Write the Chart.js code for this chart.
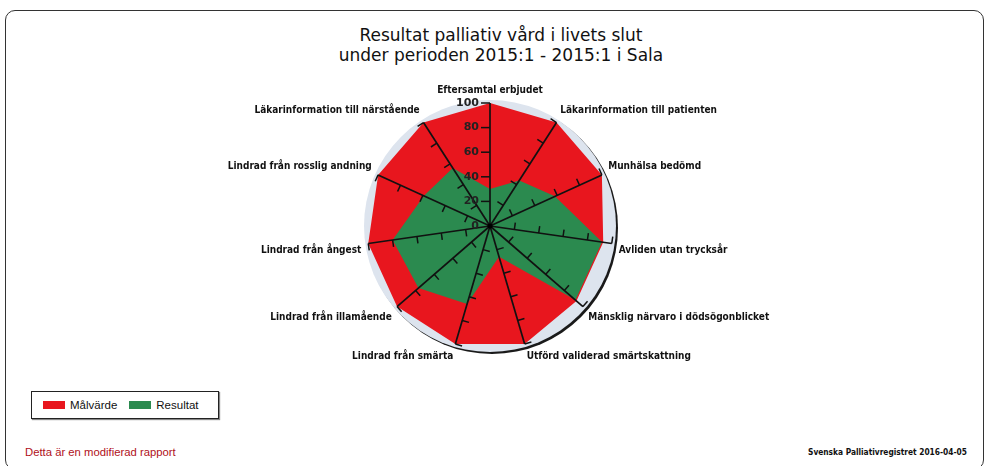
<!DOCTYPE html>
<html>
<head>
<meta charset="utf-8">
<script src="https://cdn.jsdelivr.net/npm/chart.js@4/dist/chart.umd.min.js"></script>
<style>
    body { margin: 0; width: 990px; height: 466px; background: #fff; overflow: hidden; position: relative; font-family: 'Liberation Sans', Arial, sans-serif; }
    .frame { position: absolute; left: 5px; top: 10px; width: 979px; height: 460px; border: 1.5px solid #333; border-radius: 10px; box-sizing: border-box; }
    .title { position: absolute; left: 0; top: 25px; width: 1002px; text-align: center; font-family: 'DejaVu Sans', Verdana, sans-serif; font-size: 17px; line-height: 20px; color: #111; }
    .chart-box { position: absolute; left: 0; top: 82px; width: 980px; height: 284px; }
    .legend { position: absolute; left: 31px; top: 391px; width: 188px; height: 28px; border: 1px solid #222; box-shadow: 1px 1px 1px #888; display: flex; align-items: center; padding-left: 11px; box-sizing: border-box; font-size: 11.5px; color: #111; }
    .legend .item { display: flex; align-items: center; margin-right: 12px; }
    .legend .swatch { width: 22px; height: 8px; margin-right: 5px; }
    .note { position: absolute; left: 25px; top: 446px; font-size: 11.3px; color: #b0101a; }
    .source { position: absolute; left: 808px; top: 447px; font-family: 'DejaVu Sans Condensed', 'DejaVu Sans', sans-serif; font-weight: bold; font-size: 8.3px; color: #111; }
</style>
</head>
<body>
<div class="frame"></div>
<div class="title">Resultat palliativ vård i livets slut<br>under perioden 2015:1 - 2015:1 i Sala</div>
<div class="chart-box"><canvas id="radarChart"></canvas></div>
<div class="legend" id="legend"></div>
<div class="note">Detta är en modifierad rapport</div>
<div class="source">Svenska Palliativregistret 2016-04-05</div>
<script>
const categories = [
    'Eftersamtal erbjudet',
    'Läkarinformation till patienten',
    'Munhälsa bedömd',
    'Avliden utan trycksår',
    'Mänsklig närvaro i dödsögonblicket',
    'Utförd validerad smärtskattning',
    'Lindrad från smärta',
    'Lindrad från illamående',
    'Lindrad från ångest',
    'Lindrad från rosslig andning',
    'Läkarinformation till närstående'
];
const malvarde = [100, 100, 100, 93, 93, 100, 100, 100, 100, 100, 100];
const resultat = [30, 44, 58, 92, 92, 26, 66, 77, 80, 59, 56];
const tickValues = [0, 20, 40, 60, 80, 100];

const series = [
    { label: 'Målvärde', data: malvarde, color: '#e8161e', order: 2 },
    { label: 'Resultat', data: resultat, color: '#2b8a4f', order: 1 }
];

// disk behind the polygons, with a dark shadow on the lower right
const diskPlugin = {
    id: 'disk',
    beforeDatasetsDraw(chart) {
        const s = chart.scales.r;
        const r = s.drawingArea;
        const ctx = chart.ctx;
        ctx.save();
        ctx.fillStyle = '#1a1a1a';
        ctx.beginPath();
        ctx.arc(s.xCenter + 2, s.yCenter + 2, r + 3, 0, Math.PI * 2);
        ctx.fill();
        ctx.fillStyle = '#dde4ee';
        ctx.beginPath();
        ctx.arc(s.xCenter, s.yCenter, r + 3, 0, Math.PI * 2);
        ctx.fill();
        ctx.restore();
    }
};

// tick marks on every axis, numbers on the top one
const tickPlugin = {
    id: 'axisTicks',
    afterDraw(chart) {
        const s = chart.scales.r;
        const ctx = chart.ctx;
        ctx.save();
        ctx.strokeStyle = '#111';
        ctx.lineWidth = 1.5;
        categories.forEach((c, i) => {
            const a = s.getIndexAngle(i);
            tickValues.forEach(v => {
                if (v === 0) return;
                const p = s.getPointPositionForValue(i, v);
                const len = i === 0 ? 9 : 7;
                ctx.beginPath();
                ctx.moveTo(p.x, p.y);
                ctx.lineTo(p.x - Math.cos(a) * len, p.y - Math.sin(a) * len);
                ctx.stroke();
            });
        });
        ctx.fillStyle = '#222';
        ctx.font = 'bold 11px "DejaVu Sans", sans-serif';
        ctx.textAlign = 'right';
        ctx.textBaseline = 'middle';
        tickValues.forEach(v => {
            const y = s.yCenter - s.getDistanceFromCenterForValue(v);
            ctx.fillText(String(v), s.xCenter - 11, y);
        });
        ctx.fillStyle = '#000';
        ctx.beginPath();
        ctx.arc(s.xCenter, s.yCenter, 2.5, 0, Math.PI * 2);
        ctx.fill();
        ctx.restore();
    }
};

const ctx = document.getElementById('radarChart').getContext('2d');
new Chart(ctx, {
    type: 'radar',
    data: {
        labels: categories,
        datasets: series.map(s => ({
            label: s.label,
            data: s.data,
            order: s.order,
            backgroundColor: s.color,
            borderWidth: 0,
            fill: true,
            pointRadius: 0
        }))
    },
    options: {
        responsive: true,
        maintainAspectRatio: false,
        animation: false,
        plugins: {
            legend: { display: false },
            tooltip: { enabled: false }
        },
        scales: {
            r: {
                min: 0,
                max: 100,
                ticks: { display: false, stepSize: 20 },
                grid: { display: false, z: 1 },
                angleLines: { color: '#111', lineWidth: 1.7 },
                pointLabels: {
                    color: '#111',
                    padding: 7,
                    font: { family: "'DejaVu Sans Condensed', 'DejaVu Sans', sans-serif", size: 10, weight: 'bold' }
                }
            }
        }
    },
    plugins: [diskPlugin, tickPlugin]
});

document.getElementById('legend').innerHTML = series.map(s =>
    `<div class="item"><div class="swatch" style="background:${s.color}"></div>${s.label}</div>`
).join('');
</script>
</body>
</html>
